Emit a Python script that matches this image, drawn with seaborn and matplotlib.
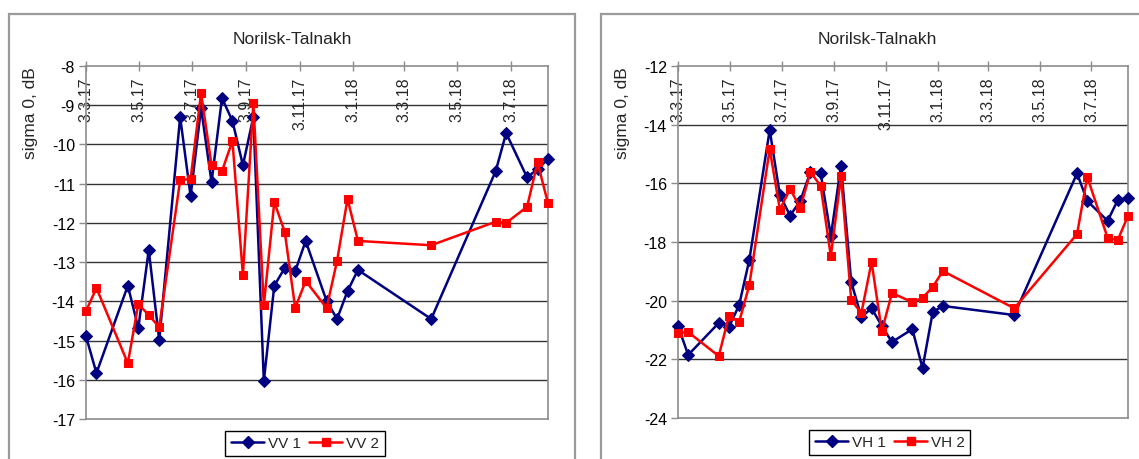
import matplotlib
matplotlib.use("Agg")
import matplotlib.pyplot as plt
from matplotlib.patches import Rectangle
from matplotlib.lines import Line2D
import seaborn as sns
import pandas as pd

# ---------------- data ----------------
dates = ["2017-03-03", "2017-03-15", "2017-04-20", "2017-05-02", "2017-05-14", "2017-05-26",
         "2017-06-19", "2017-07-01", "2017-07-13", "2017-07-25", "2017-08-06", "2017-08-18",
         "2017-08-30", "2017-09-11", "2017-09-23", "2017-10-05", "2017-10-17", "2017-10-29",
         "2017-11-10", "2017-12-04", "2017-12-16", "2017-12-28", "2018-01-09", "2018-04-03",
         "2018-06-16", "2018-06-28", "2018-07-22", "2018-08-03", "2018-08-15"]

vv1 = [-14.89, -15.83, -13.60, -14.68, -12.69, -14.99, -9.30, -11.32, -9.07, -10.96,
       -8.82, -9.40, -10.53, -9.30, -16.03, -13.60, -13.15, -13.23, -12.46, -13.99,
       -14.45, -13.74, -13.20, -14.45, -10.68, -9.71, -10.84, -10.63, -10.37]
vv2 = [-14.25, -13.66, -15.58, -14.07, -14.35, -14.66, -10.91, -10.88, -8.69, -10.53,
       -10.68, -9.91, -13.33, -8.95, -14.10, -11.47, -12.23, -14.17, -13.48, -14.17,
       -12.97, -11.39, -12.46, -12.57, -11.97, -12.00, -11.59, -10.46, -11.50]
vh1 = [-20.86, -21.85, -20.76, -20.90, -20.15, -18.61, -14.18, -16.40, -17.10, -16.60,
       -15.61, -15.65, -17.80, -15.40, -19.36, -20.56, -20.26, -20.86, -21.41, -20.97,
       -22.30, -20.39, -20.18, -20.49, -15.66, -16.60, -17.28, -16.57, -16.50]
vh2 = [-21.10, -21.07, -21.89, -20.52, -20.73, -19.47, -14.83, -16.90, -16.19, -16.84,
       -15.61, -16.09, -18.48, -15.75, -19.98, -20.42, -18.68, -21.04, -19.74, -20.05,
       -19.91, -19.53, -18.99, -20.26, -17.73, -15.78, -17.86, -17.93, -17.11]

tick_dates = ["2017-03-03", "2017-05-03", "2017-07-03", "2017-09-03", "2017-11-03",
              "2018-01-03", "2018-03-03", "2018-05-03", "2018-07-03"]
tick_labels = ["3.3.17", "3.5.17", "3.7.17", "3.9.17", "3.11.17",
               "3.1.18", "3.3.18", "3.5.18", "3.7.18"]

title = "Norilsk-Talnakh"
ylabel = "sigma 0, dB"
left_names = ["VV 1", "VV 2"]
right_names = ["VH 1", "VH 2"]
left_yticks = [-17, -16, -15, -14, -13, -12, -11, -10, -9, -8]
right_yticks = [-24, -22, -20, -18, -16, -14, -12]

# ---------------- style ----------------
sns.set_style("white")
plt.rcParams["font.family"] = ["Liberation Sans", "DejaVu Sans"]

BLUE = "#000080"
RED = "#FF0000"
GRID = "#333333"
SPINE = "#8c8c8c"
LW = 1.8
MS_D = 6.5
MS_S = 5.5

W, H = 1139, 460
fig = plt.figure(figsize=(W / 100, H / 100), dpi=100)
fig.patch.set_facecolor("white")

# chart-area frames
fig.patches.append(Rectangle((9 / W, -0.05), (575 - 9) / W, 1.05 - 15 / H,
                             transform=fig.transFigure, fill=False,
                             edgecolor="#9a9a9a", lw=1.6))
fig.patches.append(Rectangle((601 / W, -0.05), 0.6, 1.05 - 15 / H,
                             transform=fig.transFigure, fill=False,
                             edgecolor="#9a9a9a", lw=1.6))

x = pd.to_datetime(dates)
ticks = pd.to_datetime(tick_dates)


def make_panel(rect, s1, s2, names, yticks, title_x, ylab_x, leg_x):
    ax = fig.add_axes(rect)
    sns.lineplot(x=x, y=s1, ax=ax, color=BLUE, lw=LW, marker="D", markersize=MS_D,
                 markeredgecolor=BLUE, markerfacecolor=BLUE, label=names[0])
    sns.lineplot(x=x, y=s2, ax=ax, color=RED, lw=LW, marker="s", markersize=MS_S,
                 markeredgecolor=RED, markerfacecolor=RED, label=names[1])
    for ln in ax.get_lines():
        ln.set_clip_on(False)
        ln.set_zorder(3)
    ax.set_ylim(yticks[0], yticks[-1])
    ax.set_yticks(yticks)
    ax.set_yticklabels([str(v) for v in yticks])
    ax.set_xlim(x[0], x[-1])
    ax.set_xticks(ticks)
    ax.set_xticklabels(tick_labels)
    for yv in yticks[1:-1]:
        ax.axhline(yv, color=GRID, lw=1.0, zorder=0.5)
    for s in ax.spines.values():
        s.set_color(SPINE)
        s.set_linewidth(1.2)
    ax.tick_params(axis="y", left=True, direction="out", length=5, width=1,
                   color=SPINE, labelsize=11.5, pad=3, labelcolor="black")
    ax.tick_params(axis="x", top=True, bottom=False, labeltop=True, labelbottom=False,
                   direction="inout", length=7, width=1, color=SPINE,
                   labelsize=11.5, labelrotation=90, pad=-11)
    for t in ax.xaxis.get_major_ticks():
        t.label2.set_va("top")
    ax.set_xlabel("")
    ax.set_ylabel(ylabel, fontsize=12.5)
    ax.yaxis.set_label_coords(ylab_x, 0.87)
    ax.set_title(title, fontsize=12.5, x=title_x, y=1.077, pad=0, va="center")
    handles = [Line2D([], [], color=BLUE, lw=LW, marker="D", markersize=MS_D),
               Line2D([], [], color=RED, lw=LW, marker="s", markersize=MS_S)]
    leg = ax.legend(handles, names, loc="upper center", bbox_to_anchor=(leg_x, -0.034),
                    ncol=2, frameon=True, fancybox=False, framealpha=1,
                    edgecolor="black", fontsize=11, handlelength=2.2,
                    columnspacing=0.5, handletextpad=0.25, borderpad=0.35,
                    borderaxespad=0)
    leg.get_frame().set_linewidth(1.0)
    return ax


make_panel([86 / W, (H - 420) / H, (548 - 86) / W, (420 - 67) / H],
           vv1, vv2, left_names, left_yticks, 0.446, -0.104, 0.474)
make_panel([678 / W, (H - 419) / H, (1128 - 678) / W, (419 - 67) / H],
           vh1, vh2, right_names, right_yticks, 0.442, -0.107, 0.471)

fig.savefig("out.png", dpi=100)
